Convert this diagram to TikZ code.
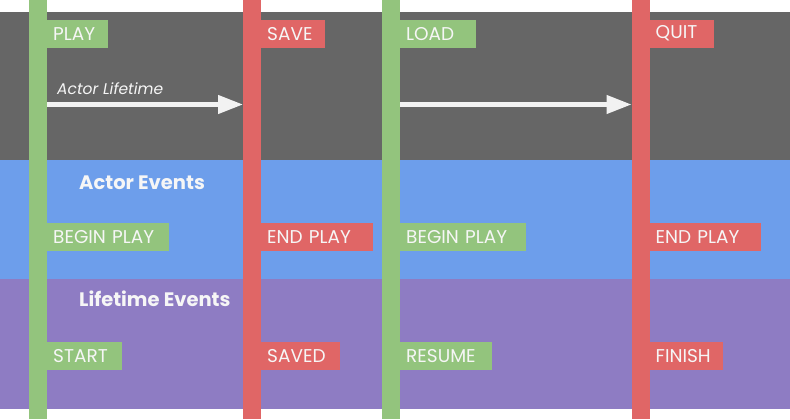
\documentclass[tikz,border=0pt]{standalone}
\usepackage{fontspec}
\setmainfont{Poppins}
\usetikzlibrary{arrows.meta}
\definecolor{bandgray}{HTML}{666666}
\definecolor{bandblue}{HTML}{6D9EEB}
\definecolor{bandpurple}{HTML}{8E7CC3}
\definecolor{flaggreen}{HTML}{93C47D}
\definecolor{flagred}{HTML}{E06666}
\definecolor{arrowwhite}{HTML}{F2F2F2}
\definecolor{textwhite}{HTML}{F6F6F6}
\begin{document}
\begin{tikzpicture}[x=1pt,y=-1pt,
  bar/.style={draw=none, minimum width=18pt, minimum height=419pt, inner sep=0pt, anchor=north west},
  flag/.style={draw=none, anchor=north west, inner xsep=6pt, inner ysep=0pt,
    minimum height=28pt, text=textwhite, font=\fontsize{18.5}{18.5}\selectfont, align=left},
  heading/.style={anchor=base west, text=textwhite, inner sep=0pt,
    font=\fontsize{19.5}{19.5}\selectfont\bfseries},
  lifearrow/.style={draw=arrowwhite, line width=4.4pt,
    -{Triangle[length=25pt,width=18pt]}}
]
\useasboundingbox (0,0) rectangle (790,420);
% horizontal bands
\fill[bandgray]   (0,12)  rectangle (790,160);
\fill[bandblue]   (0,160) rectangle (790,279);
\fill[bandpurple] (0,279) rectangle (790,409);

% vertical lifetime bars
\node[bar, fill=flaggreen] (b1) at (29,0)  {};
\node[bar, fill=flagred]   (b2) at (243,0) {};
\node[bar, fill=flaggreen] (b3) at (382,0) {};
\node[bar, fill=flagred]   (b4) at (631.5,0) {};

% top row flags
\node[flag, fill=flaggreen, text width=49pt]  (play) at (47,19.5)    {PLAY};
\node[flag, fill=flagred,   text width=52pt]  (save) at (261,19.5)   {SAVE};
\node[flag, fill=flaggreen, text width=64pt]  (load) at (400,19.5)   {LOAD};
\node[flag, fill=flagred,   text width=52pt]  (quit) at (649.5,19.5) {QUIT};

% actor events row
\node[flag, fill=flaggreen, text width=109.5pt] (bp1) at (47,222.7)    {BEGIN PLAY};
\node[flag, fill=flagred,   text width=99.5pt]  (ep1) at (261,222.7)   {END PLAY};
\node[flag, fill=flaggreen, text width=113.5pt] (bp2) at (400,222.7)   {BEGIN PLAY};
\node[flag, fill=flagred,   text width=99pt]    (ep2) at (649.5,222.7) {END PLAY};

% lifetime events row
\node[flag, fill=flaggreen, text width=62.5pt] (start)  at (47,341.7)    {START};
\node[flag, fill=flagred,   text width=67pt]   (saved)  at (261,341.7)   {SAVED};
\node[flag, fill=flaggreen, text width=79.5pt] (resume) at (400,341.7)   {RESUME};
\node[flag, fill=flagred,   text width=61pt]   (finish) at (649.5,341.7) {FINISH};

% band headings
\node[heading] (hactor) at (79,189)   {Actor Events};
\node[heading] (hlife)  at (79,306.5) {Lifetime Events};

% actor lifetime arrows
\coordinate (a1s) at (b1.east |- 0,104.5);
\coordinate (a1e) at (b2.west |- 0,104.5);
\coordinate (a2s) at (b3.east |- 0,104.5);
\coordinate (a2e) at (b4.west |- 0,104.5);
\draw[lifearrow] (a1s) -- (a1e);
\draw[lifearrow] (a2s) -- (a2e);
\node[anchor=base west, inner sep=0pt, text=textwhite,
  font=\fontsize{15.5}{15.5}\selectfont\itshape] (lifetime) at (57,94.5) {Actor Lifetime};
\end{tikzpicture}
\end{document}
